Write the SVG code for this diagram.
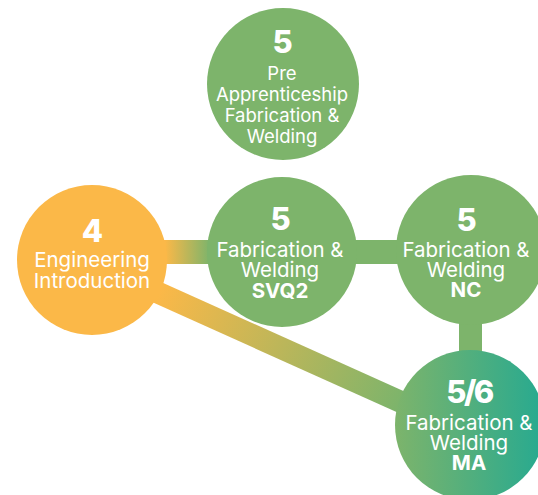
<svg xmlns="http://www.w3.org/2000/svg" width="538" height="495" viewBox="0 0 538 495">
<defs>
<linearGradient id="gDiag" gradientUnits="userSpaceOnUse" x1="160" y1="292" x2="400" y2="402">
<stop offset="0" stop-color="#fbb848"/>
<stop offset="1" stop-color="#7db46b"/>
</linearGradient>
<linearGradient id="gBar" gradientUnits="userSpaceOnUse" x1="165" y1="0" x2="210" y2="0">
<stop offset="0" stop-color="#fbb848"/>
<stop offset="1" stop-color="#7db46b"/>
</linearGradient>
<linearGradient id="gMA" gradientUnits="userSpaceOnUse" x1="395" y1="0" x2="540" y2="0">
<stop offset="0" stop-color="#7db46b"/>
<stop offset="1" stop-color="#29aa8f"/>
</linearGradient>
</defs>
<style>
text{font-family:Inter,"Liberation Sans",sans-serif;fill:#ffffff;text-anchor:middle;font-size:20.5px}
.sm{font-size:18.5px}
.num{font-size:31px;font-weight:800;letter-spacing:-1px}
.b{font-weight:700}
.green{fill:#7db46b}
.orange{fill:#fbb848}
</style>
<g id="connectors">
<line x1="92" y1="263" x2="470" y2="433" stroke="url(#gDiag)" stroke-width="22"/>
<rect x="150" y="240" width="70" height="24" fill="url(#gBar)"/>
<rect x="340" y="240" width="70" height="24" class="green"/>
<rect x="459" y="300" width="23" height="70" class="green"/>
</g>
<g id="node-pre">
<circle cx="283" cy="84" r="76" class="green"/>
<text x="282" y="53" class="num">5</text>
<text x="282" y="80" class="sm">Pre</text>
<text x="282" y="101" class="sm">Apprenticeship</text>
<text x="282" y="122" class="sm">Fabrication &amp;</text>
<text x="282" y="143" class="sm">Welding</text>
</g>
<g id="node-eng">
<circle cx="92" cy="260" r="75" class="orange"/>
<text x="92" y="242" class="num">4</text>
<text x="92" y="267">Engineering</text>
<text x="92" y="288">Introduction</text>
</g>
<g id="node-svq2">
<circle cx="282" cy="252" r="75" class="green"/>
<text x="280" y="230" class="num">5</text>
<text x="280" y="257">Fabrication &amp;</text>
<text x="280" y="277">Welding</text>
<text x="280" y="298" class="b">SVQ2</text>
</g>
<g id="node-nc">
<circle cx="471" cy="250" r="75" class="green"/>
<text x="466" y="231" class="num">5</text>
<text x="466" y="257">Fabrication &amp;</text>
<text x="466" y="277">Welding</text>
<text x="466" y="297" class="b">NC</text>
</g>
<g id="node-ma">
<circle cx="470" cy="425" r="75" fill="url(#gMA)"/>
<text x="469" y="403" class="num" style="letter-spacing:-2.5px">5/6</text>
<text x="469" y="430">Fabrication &amp;</text>
<text x="469" y="450">Welding</text>
<text x="469" y="470" class="b">MA</text>
</g>
</svg>
